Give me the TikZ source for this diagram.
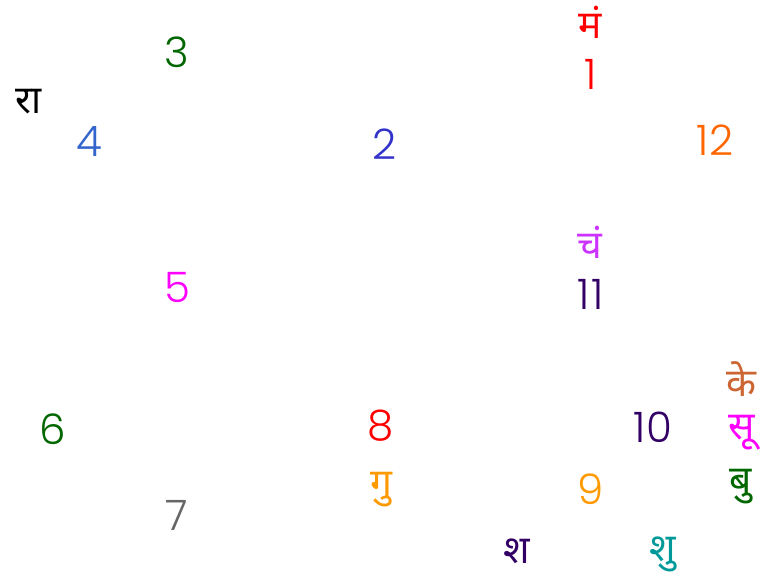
\documentclass[tikz,border=0pt]{standalone}
\usepackage{fontspec}
\setmainfont{Poppins}
\newfontfamily\bhavfont{Poppins Light}
\newfontfamily\grahafont[Script=Devanagari]{Noto Sans}

\definecolor{lagnared}{HTML}{FF0000}
\definecolor{bhavblue}{HTML}{3333CC}
\definecolor{ravigreen}{HTML}{006600}
\definecolor{rahublue}{HTML}{3366CC}
\definecolor{vyayorange}{HTML}{FF6600}
\definecolor{chandraviolet}{HTML}{CC33FF}
\definecolor{shaniplum}{HTML}{330066}
\definecolor{ketubrown}{HTML}{CC6633}
\definecolor{guruorange}{HTML}{FF9900}
\definecolor{shukrateal}{HTML}{009999}
\definecolor{suryamagenta}{HTML}{FF00FF}

\begin{document}
\begin{tikzpicture}[x=1pt,y=-1pt,
  bhav/.style={inner sep=0pt,font=\bhavfont\fontsize{42}{42}\selectfont},
  graha/.style={inner sep=0pt,font=\grahafont\fontsize{39}{39}\selectfont}]
\useasboundingbox (0,0) rectangle (764,582);
% bhav numbers
\node[bhav,text=lagnared]      (h1)  at (591,74)  {1};
\node[bhav,text=bhavblue]      (h2)  at (385,144) {2};
\node[bhav,text=ravigreen]     (h3)  at (177,52)  {3};
\node[bhav,text=rahublue]      (h4)  at (89,142)  {4};
\node[bhav,text=suryamagenta]  (h5)  at (177,287) {5};
\node[bhav,text=ravigreen]     (h6)  at (53,429)  {6};
\node[bhav,text=black!60]      (h7)  at (177,515) {7};
\node[bhav,text=lagnared]      (h8)  at (381,426) {8};
\node[bhav,text=guruorange]    (h9)  at (591,489) {9};
\node[bhav,text=shaniplum]     (h10) at (653,427) {10};
\node[bhav,text=shaniplum]     (h11) at (591,294) {1\kern2pt1};
\node[bhav,text=vyayorange]    (h12) at (715,140) {12};
% grahas
\node[graha,text=lagnared]      (mangal)  at (590,22)  {मं};
\node[graha,text=black]         (rahu)    at (29,102)  {रा};
\node[graha,text=chandraviolet] (chandra) at (590,242) {चं};
\node[graha,text=ketubrown]     (ketu)    at (741,379) {के};
\node[graha,text=suryamagenta]  (surya)   at (742,433) {सू};
\node[graha,text=guruorange]    (guru)    at (381,490) {गु};
\node[graha,text=ravigreen]     (budh)    at (741,487) {बु};
\node[graha,text=shaniplum]     (shani)   at (517,551) {श};
\node[graha,text=shukrateal]    (shukra)  at (663,554) {शु};
\end{tikzpicture}
\end{document}
